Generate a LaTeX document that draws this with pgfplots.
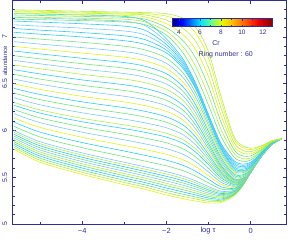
\documentclass[border=0pt]{standalone}
\usepackage{fontspec}
\setmainfont{Liberation Sans}
\usepackage{pgfplots}
\pgfplotsset{compat=1.18}
\usetikzlibrary{calc}
\definecolor{navy}{RGB}{45,45,150}
\definecolor{cC}{RGB}{40,205,250}
\definecolor{cL}{RGB}{120,200,255}
\definecolor{cG}{RGB}{110,230,120}
\definecolor{cYG}{RGB}{175,240,70}
\definecolor{cY}{RGB}{225,245,20}
\pgfplotsset{
  colormap={pgplot}{rgb255(0cm)=(0,0,140); rgb255(9cm)=(0,0,255); rgb255(27cm)=(0,230,255); rgb255(37cm)=(100,250,150); rgb255(47cm)=(230,250,0); rgb255(57cm)=(255,190,0); rgb255(67cm)=(255,110,0); rgb255(82cm)=(240,0,0); rgb255(95cm)=(140,0,0)}
}
\begin{document}
\begin{tikzpicture}
\begin{axis}[
  at={(0,0)}, anchor=south west,
  scale only axis, width=273.3bp, height=223.5bp,
  xmin=-5.65, xmax=0.84, ymin=5, ymax=7.39,
  xtick={-4,-2,0}, xticklabels={−4,−2,0},
  minor xtick={-5,-3,-1},
  ytick={5,5.5,6,6.5,7},
  minor ytick={5.1,5.2,5.3,5.4,5.6,5.7,5.8,5.9,6.1,6.2,6.3,6.4,6.6,6.7,6.8,6.9,7.1,7.2,7.3},
  axis line style={navy, line width=0.8pt},
  every tick/.style={navy, line width=0.6pt},
  major tick length=3.5bp, minor tick length=2bp,
  tick align=inside,
  tick label style={text=navy},
  xticklabel style={font=\fontsize{7.5}{8}\selectfont, yshift=-1bp},
  yticklabel style={font=\fontsize{7}{8}\selectfont, xshift=-2bp, rotate=90, anchor=south},
  /pgf/number format/assume math mode=true,
  colormap name=pgplot,
  point meta min=3.33, point meta max=12.86,
  colorbar horizontal,
  colorbar style={
    at={($(parent axis.south west)+(159.3bp,206bp)$)}, anchor=south west,
    scale only axis, width=100bp, height=8bp,
    xtick={4,6,8,10,12}, minor xtick={5,7,9,11},
    xticklabel style={font=\fontsize{6.5}{7}\selectfont, text=navy},
    /pgf/number format/assume math mode=true,
    axis line style={navy, line width=0.6pt},
    every tick/.style={navy, line width=0.5pt},
    major tick length=2bp, minor tick length=1.5bp,
  },
  every axis plot/.append style={smooth, line width=0.6pt, mark=none},
]
% bottom band
\addplot[cY] coordinates {(-5.62,5.80)(-5,5.66)(-4,5.53)(-3,5.42)(-2.5,5.37)(-2,5.31)(-1.6,5.27)(-1.3,5.245)(-1,5.225)(-0.7,5.23)(-0.4,5.30)(-0.2,5.40)(0,5.55)(0.25,5.72)(0.5,5.85)(0.73,5.91)};
\addplot[cYG] coordinates {(-5.62,5.82)(-5,5.682)(-4,5.553)(-3,5.444)(-2.5,5.394)(-2,5.335)(-1.6,5.294)(-1.3,5.267)(-1,5.243)(-0.7,5.242)(-0.4,5.306)(-0.2,5.403)(0,5.55)(0.25,5.72)(0.5,5.85)(0.73,5.91)};
\addplot[cG] coordinates {(-5.62,5.84)(-5,5.704)(-4,5.576)(-3,5.468)(-2.5,5.418)(-2,5.36)(-1.6,5.318)(-1.3,5.288)(-1,5.26)(-0.7,5.254)(-0.4,5.312)(-0.2,5.406)(0,5.55)(0.25,5.72)(0.5,5.85)(0.73,5.91)};
\addplot[cC] coordinates {(-5.62,5.86)(-5,5.726)(-4,5.599)(-3,5.492)(-2.5,5.442)(-2,5.385)(-1.6,5.342)(-1.3,5.31)(-1,5.278)(-0.7,5.266)(-0.4,5.318)(-0.2,5.409)(0,5.55)(0.25,5.72)(0.5,5.85)(0.73,5.91)};
\addplot[cG] coordinates {(-5.62,5.88)(-5,5.748)(-4,5.622)(-3,5.516)(-2.5,5.466)(-2,5.41)(-1.6,5.366)(-1.3,5.331)(-1,5.295)(-0.7,5.278)(-0.4,5.324)(-0.2,5.412)(0,5.55)(0.25,5.72)(0.5,5.85)(0.73,5.91)};
\addplot[cYG] coordinates {(-5.62,5.90)(-5,5.77)(-4,5.645)(-3,5.54)(-2.5,5.49)(-2,5.435)(-1.6,5.39)(-1.3,5.353)(-1,5.313)(-0.7,5.29)(-0.4,5.33)(-0.2,5.415)(0,5.55)(0.25,5.72)(0.5,5.85)(0.73,5.91)};
\addplot[cL] coordinates {(-5.62,5.92)(-5,5.792)(-4,5.668)(-3,5.564)(-2.5,5.514)(-2,5.46)(-1.6,5.414)(-1.3,5.374)(-1,5.33)(-0.7,5.302)(-0.4,5.336)(-0.2,5.418)(0,5.55)(0.25,5.72)(0.5,5.85)(0.73,5.91)};
\addplot[cG] coordinates {(-5.62,5.94)(-5,5.814)(-4,5.691)(-3,5.588)(-2.5,5.538)(-2,5.485)(-1.6,5.438)(-1.3,5.396)(-1,5.348)(-0.7,5.314)(-0.4,5.342)(-0.2,5.421)(0,5.55)(0.25,5.72)(0.5,5.85)(0.73,5.91)};
\addplot[cC] coordinates {(-5.62,5.96)(-5,5.836)(-4,5.714)(-3,5.612)(-2.5,5.562)(-2,5.51)(-1.6,5.462)(-1.3,5.417)(-1,5.365)(-0.7,5.326)(-0.4,5.348)(-0.2,5.424)(0,5.55)(0.25,5.72)(0.5,5.85)(0.73,5.91)};
\addplot[cYG] coordinates {(-5.62,5.98)(-5,5.858)(-4,5.737)(-3,5.636)(-2.5,5.586)(-2,5.535)(-1.6,5.486)(-1.3,5.439)(-1,5.383)(-0.7,5.338)(-0.4,5.354)(-0.2,5.427)(0,5.55)(0.25,5.72)(0.5,5.85)(0.73,5.91)};
\addplot[cL] coordinates {(-5.62,6.00)(-5,5.88)(-4,5.76)(-3,5.66)(-2.5,5.61)(-2,5.56)(-1.6,5.51)(-1.3,5.46)(-1,5.40)(-0.7,5.35)(-0.4,5.36)(-0.2,5.43)(0,5.55)(0.25,5.72)(0.5,5.85)(0.73,5.91)};
% lower middle
\addplot[cG] coordinates {(-5.62,6.045)(-5,5.931)(-4,5.816)(-3,5.72)(-2.5,5.672)(-2,5.622)(-1.6,5.569)(-1.3,5.511)(-1,5.439)(-0.7,5.374)(-0.4,5.371)(-0.2,5.435)(0,5.552)(0.25,5.72)(0.5,5.85)(0.73,5.91)};
\addplot[cC] coordinates {(-5.62,6.09)(-5,5.982)(-4,5.871)(-3,5.78)(-2.5,5.733)(-2,5.683)(-1.6,5.627)(-1.3,5.562)(-1,5.478)(-0.7,5.398)(-0.4,5.381)(-0.2,5.439)(0,5.553)(0.25,5.72)(0.5,5.85)(0.73,5.91)};
\addplot[cY] coordinates {(-5.62,6.135)(-5,6.033)(-4,5.927)(-3,5.84)(-2.5,5.795)(-2,5.745)(-1.6,5.686)(-1.3,5.613)(-1,5.517)(-0.7,5.422)(-0.4,5.392)(-0.2,5.444)(0,5.555)(0.25,5.72)(0.5,5.85)(0.73,5.91)};
\addplot[cL] coordinates {(-5.62,6.18)(-5,6.084)(-4,5.982)(-3,5.90)(-2.5,5.856)(-2,5.806)(-1.6,5.744)(-1.3,5.664)(-1,5.556)(-0.7,5.446)(-0.4,5.402)(-0.2,5.448)(0,5.556)(0.25,5.72)(0.5,5.85)(0.73,5.91)};
\addplot[cG] coordinates {(-5.62,6.225)(-5,6.135)(-4,6.038)(-3,5.96)(-2.5,5.918)(-2,5.868)(-1.6,5.803)(-1.3,5.715)(-1,5.595)(-0.7,5.47)(-0.4,5.413)(-0.2,5.453)(0,5.558)(0.25,5.72)(0.5,5.85)(0.73,5.91)};
\addplot[cC] coordinates {(-5.62,6.27)(-5,6.186)(-4,6.093)(-3,6.02)(-2.5,5.979)(-2,5.929)(-1.6,5.861)(-1.3,5.766)(-1,5.634)(-0.7,5.494)(-0.4,5.423)(-0.2,5.457)(0,5.559)(0.25,5.72)(0.5,5.85)(0.73,5.91)};
\addplot[cYG] coordinates {(-5.62,6.30)(-5,6.22)(-4,6.13)(-3,6.06)(-2.5,6.02)(-2,5.97)(-1.6,5.90)(-1.3,5.80)(-1,5.66)(-0.7,5.51)(-0.4,5.43)(-0.2,5.46)(0,5.56)(0.25,5.72)(0.5,5.85)(0.73,5.91)};
% middle
\addplot[cL] coordinates {(-5.62,6.35)(-5,6.275)(-4,6.189)(-3,6.121)(-2.5,6.081)(-2,6.029)(-1.6,5.953)(-1.3,5.843)(-1,5.689)(-0.7,5.526)(-0.4,5.438)(-0.2,5.464)(0,5.56)(0.25,5.72)(0.5,5.85)(0.73,5.91)};
\addplot[cG] coordinates {(-5.62,6.40)(-5,6.33)(-4,6.248)(-3,6.183)(-2.5,6.143)(-2,6.088)(-1.6,6.005)(-1.3,5.885)(-1,5.718)(-0.7,5.543)(-0.4,5.445)(-0.2,5.468)(0,5.56)(0.25,5.72)(0.5,5.85)(0.73,5.91)};
\addplot[cC] coordinates {(-5.62,6.45)(-5,6.385)(-4,6.306)(-3,6.244)(-2.5,6.204)(-2,6.146)(-1.6,6.058)(-1.3,5.928)(-1,5.746)(-0.7,5.559)(-0.4,5.453)(-0.2,5.471)(0,5.56)(0.25,5.72)(0.5,5.85)(0.73,5.91)};
\addplot[cY] coordinates {(-5.62,6.50)(-5,6.44)(-4,6.365)(-3,6.305)(-2.5,6.265)(-2,6.205)(-1.6,6.11)(-1.3,5.97)(-1,5.775)(-0.7,5.575)(-0.4,5.46)(-0.2,5.475)(0,5.56)(0.25,5.72)(0.5,5.85)(0.73,5.91)};
\addplot[cL] coordinates {(-5.62,6.55)(-5,6.495)(-4,6.424)(-3,6.366)(-2.5,6.326)(-2,6.264)(-1.6,6.163)(-1.3,6.013)(-1,5.804)(-0.7,5.591)(-0.4,5.468)(-0.2,5.479)(0,5.56)(0.25,5.72)(0.5,5.85)(0.73,5.91)};
\addplot[cG] coordinates {(-5.62,6.60)(-5,6.55)(-4,6.483)(-3,6.428)(-2.5,6.388)(-2,6.323)(-1.6,6.215)(-1.3,6.055)(-1,5.833)(-0.7,5.608)(-0.4,5.475)(-0.2,5.483)(0,5.56)(0.25,5.72)(0.5,5.85)(0.73,5.91)};
\addplot[cC] coordinates {(-5.62,6.65)(-5,6.605)(-4,6.541)(-3,6.489)(-2.5,6.449)(-2,6.381)(-1.6,6.268)(-1.3,6.098)(-1,5.861)(-0.7,5.624)(-0.4,5.483)(-0.2,5.486)(0,5.56)(0.25,5.72)(0.5,5.85)(0.73,5.91)};
\addplot[cYG] coordinates {(-5.62,6.70)(-5,6.66)(-4,6.60)(-3,6.55)(-2.5,6.51)(-2,6.44)(-1.6,6.32)(-1.3,6.14)(-1,5.89)(-0.7,5.64)(-0.4,5.49)(-0.2,5.49)(0,5.56)(0.25,5.72)(0.5,5.85)(0.73,5.91)};
% upper middle
\addplot[cL] coordinates {(-5.62,6.75)(-5,6.713)(-4,6.657)(-3,6.609)(-2.5,6.569)(-2,6.496)(-1.6,6.369)(-1.3,6.183)(-1,5.923)(-0.7,5.663)(-0.4,5.506)(-0.2,5.501)(0,5.567)(0.25,5.723)(0.5,5.851)(0.73,5.91)};
\addplot[cG] coordinates {(-5.62,6.80)(-5,6.766)(-4,6.714)(-3,6.667)(-2.5,6.627)(-2,6.552)(-1.6,6.417)(-1.3,6.226)(-1,5.956)(-0.7,5.686)(-0.4,5.521)(-0.2,5.513)(0,5.574)(0.25,5.726)(0.5,5.853)(0.73,5.91)};
\addplot[cC] coordinates {(-5.62,6.85)(-5,6.819)(-4,6.772)(-3,6.726)(-2.5,6.686)(-2,6.607)(-1.6,6.466)(-1.3,6.269)(-1,5.989)(-0.7,5.709)(-0.4,5.537)(-0.2,5.524)(0,5.581)(0.25,5.729)(0.5,5.854)(0.73,5.91)};
\addplot[cY] coordinates {(-5.62,6.90)(-5,6.871)(-4,6.828)(-3,6.784)(-2.5,6.744)(-2,6.663)(-1.6,6.514)(-1.3,6.311)(-1,6.021)(-0.7,5.731)(-0.4,5.553)(-0.2,5.536)(0,5.589)(0.25,5.731)(0.5,5.856)(0.73,5.91)};
\addplot[cL] coordinates {(-5.62,6.95)(-5,6.924)(-4,6.886)(-3,6.843)(-2.5,6.803)(-2,6.718)(-1.6,6.563)(-1.3,6.354)(-1,6.054)(-0.7,5.754)(-0.4,5.569)(-0.2,5.547)(0,5.596)(0.25,5.734)(0.5,5.857)(0.73,5.91)};
\addplot[cG] coordinates {(-5.62,7.00)(-5,6.977)(-4,6.943)(-3,6.901)(-2.5,6.861)(-2,6.774)(-1.6,6.611)(-1.3,6.397)(-1,6.087)(-0.7,5.777)(-0.4,5.584)(-0.2,5.559)(0,5.603)(0.25,5.737)(0.5,5.859)(0.73,5.91)};
\addplot[cC] coordinates {(-5.62,7.05)(-5,7.03)(-4,7.00)(-3,6.96)(-2.5,6.92)(-2,6.83)(-1.6,6.66)(-1.3,6.44)(-1,6.12)(-0.7,5.80)(-0.4,5.60)(-0.2,5.57)(0,5.61)(0.25,5.74)(0.5,5.86)(0.73,5.91)};
% top cyan band
\addplot[cC] coordinates {(-5.62,7.09)(-5,7.073)(-4,7.047)(-3,7.012)(-2.5,6.97)(-2,6.86)(-1.6,6.68)(-1.3,6.452)(-1,6.13)(-0.7,5.812)(-0.4,5.616)(-0.2,5.584)(0,5.62)(0.25,5.744)(0.5,5.862)(0.73,5.91)};
\addplot[cL] coordinates {(-5.62,7.13)(-5,7.116)(-4,7.094)(-3,7.064)(-2.5,7.02)(-2,6.89)(-1.6,6.70)(-1.3,6.464)(-1,6.14)(-0.7,5.824)(-0.4,5.632)(-0.2,5.598)(0,5.63)(0.25,5.748)(0.5,5.864)(0.73,5.91)};
\addplot[cC] coordinates {(-5.62,7.17)(-5,7.159)(-4,7.141)(-3,7.116)(-2.5,7.07)(-2,6.92)(-1.6,6.72)(-1.3,6.476)(-1,6.15)(-0.7,5.836)(-0.4,5.648)(-0.2,5.612)(0,5.64)(0.25,5.752)(0.5,5.866)(0.73,5.91)};
\addplot[cL] coordinates {(-5.62,7.21)(-5,7.202)(-4,7.188)(-3,7.168)(-2.5,7.12)(-2,6.95)(-1.6,6.74)(-1.3,6.488)(-1,6.16)(-0.7,5.848)(-0.4,5.664)(-0.2,5.626)(0,5.65)(0.25,5.756)(0.5,5.868)(0.73,5.91)};
\addplot[cC] coordinates {(-5.62,7.25)(-5,7.245)(-4,7.235)(-3,7.22)(-2.5,7.17)(-2,6.98)(-1.6,6.76)(-1.3,6.50)(-1,6.17)(-0.7,5.86)(-0.4,5.68)(-0.2,5.64)(0,5.66)(0.25,5.76)(0.5,5.87)(0.73,5.91)};
% top yellow group
\addplot[cG] coordinates {(-5.62,7.19)(-5,7.185)(-4,7.175)(-3,7.16)(-2.5,7.13)(-2,7.02)(-1.6,6.826)(-1.3,6.59)(-1,6.27)(-0.7,5.935)(-0.4,5.719)(-0.2,5.67)(0,5.683)(0.25,5.771)(0.5,5.873)(0.73,5.91)};
\addplot[cYG] coordinates {(-5.62,7.215)(-5,7.21)(-4,7.20)(-3,7.19)(-2.5,7.16)(-2,7.061)(-1.6,6.892)(-1.3,6.68)(-1,6.371)(-0.7,6.01)(-0.4,5.758)(-0.2,5.70)(0,5.705)(0.25,5.783)(0.5,5.876)(0.73,5.91)};
\addplot[cG] coordinates {(-5.62,7.235)(-5,7.23)(-4,7.22)(-3,7.21)(-2.5,7.19)(-2,7.10)(-1.6,6.958)(-1.3,6.77)(-1,6.47)(-0.7,6.085)(-0.4,5.797)(-0.2,5.73)(0,5.728)(0.25,5.794)(0.5,5.879)(0.73,5.91)};
\addplot[cY] coordinates {(-5.62,7.255)(-5,7.25)(-4,7.24)(-3,7.23)(-2.5,7.215)(-2,7.142)(-1.6,7.024)(-1.3,6.86)(-1,6.572)(-0.7,6.16)(-0.4,5.836)(-0.2,5.76)(0,5.75)(0.25,5.805)(0.5,5.882)(0.73,5.91)};
\addplot[cYG] coordinates {(-5.62,7.27)(-5,7.265)(-4,7.255)(-3,7.245)(-2.5,7.235)(-2,7.18)(-1.6,7.09)(-1.3,6.95)(-1,6.67)(-0.7,6.235)(-0.4,5.875)(-0.2,5.79)(0,5.773)(0.25,5.816)(0.5,5.885)(0.73,5.91)};
\addplot[cY] coordinates {(-5.62,7.28)(-5,7.275)(-4,7.265)(-3,7.255)(-2.5,7.25)(-2,7.223)(-1.6,7.156)(-1.3,7.04)(-1,6.773)(-0.7,6.31)(-0.4,5.914)(-0.2,5.82)(0,5.795)(0.25,5.828)(0.5,5.888)(0.73,5.91)};
\addplot[cYG] coordinates {(-5.62,7.29)(-5,7.285)(-4,7.275)(-3,7.265)(-2.5,7.26)(-2,7.25)(-1.6,7.20)(-1.3,7.10)(-1,6.84)(-0.7,6.36)(-0.4,5.94)(-0.2,5.84)(0,5.81)(0.25,5.835)(0.5,5.89)(0.73,5.91)};
\node[font=\fontsize{7}{8}\selectfont, text=navy] at (axis cs:-0.82,6.936) {Cr};
\node[font=\fontsize{7}{8}\selectfont, text=navy] at (axis cs:-0.59,6.807) {Ring number : 60};
\end{axis}
\node[font=\fontsize{7.5}{8}\selectfont, text=navy] at (195.3bp,-7bp) {log τ};
\node[font=\fontsize{6}{7}\selectfont, text=navy, rotate=90] at (-7.7bp,163bp) {abundance};
\pgfresetboundingbox
\path[use as bounding box] (-12.7bp,-16bp) rectangle (287.3bp,224bp);
\end{tikzpicture}
\end{document}
